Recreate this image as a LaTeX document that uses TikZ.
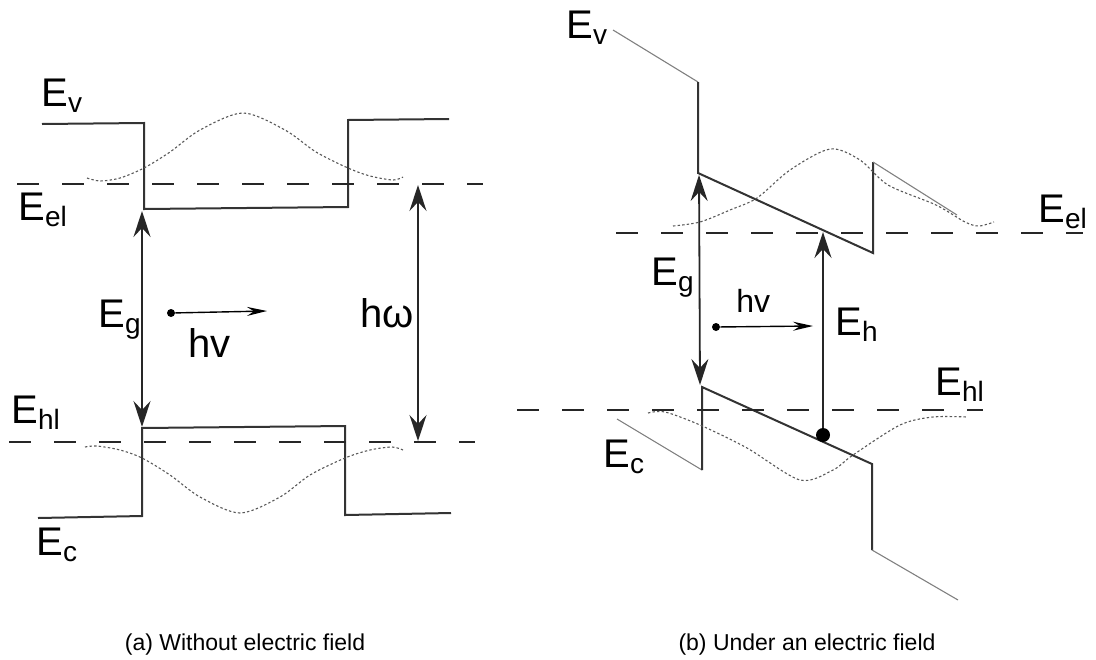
\documentclass[tikz,border=0pt]{standalone}
\usepackage{fontspec}
\setmainfont{Liberation Sans}
\usetikzlibrary{arrows.meta}

\begin{document}
\begin{tikzpicture}
  [x=0.5pt,y=-0.5pt,
   band/.style={draw=black!80,line width=1pt},
   tail/.style={draw=black!50,line width=0.55pt},
   lvline/.style={draw=black!85,line width=1.1pt,dash pattern=on 11pt off 11.5pt},
   wave/.style={draw=black!65,line width=0.55pt,dash pattern=on 1.2pt off 1.1pt},
   gap/.style={draw=black!85,line width=0.9pt,{Stealth[length=13pt,width=8.5pt,inset=4.5pt]}-{Stealth[length=13pt,width=8.5pt,inset=4.5pt]}},
   rise/.style={draw=black!85,line width=0.9pt,-{Stealth[length=13pt,width=8.5pt,inset=4.5pt]}},
   photon/.style={draw,line width=0.7pt,-{Stealth[length=10pt,width=4.5pt,inset=3.5pt]}},
   electron/.style={circle,fill,inner sep=0pt,minimum size=4pt},
   lbl/.style={anchor=base west,inner sep=0pt,font=\fontsize{20}{24}\selectfont},
   capt/.style={anchor=base,inner sep=0pt,font=\fontsize{11.5}{14}\selectfont}]
  \useasboundingbox (0,0) rectangle (1096,659);

  % (a) without field
  \coordinate (a1) at (42,124);
  \coordinate (a2) at (144,123);
  \coordinate (a3) at (144,209);
  \coordinate (a4) at (348,207);
  \coordinate (a5) at (348,120);
  \coordinate (a6) at (449,119);
  \draw[band] (a1) -- (a2) -- (a3) -- (a4) -- (a5) -- (a6);

  \coordinate (b1) at (38,518);
  \coordinate (b2) at (142,516);
  \coordinate (b3) at (142,428);
  \coordinate (b4) at (345,426);
  \coordinate (b5) at (345,515);
  \coordinate (b6) at (451,513);
  \draw[band] (b1) -- (b2) -- (b3) -- (b4) -- (b5) -- (b6);

  \coordinate (el a1) at (17,184);
  \coordinate (el a2) at (483,184);
  \coordinate (hl a1) at (9,442);
  \coordinate (hl a2) at (475,442);
  \draw[lvline] (el a1) -- (el a2);
  \draw[lvline] (hl a1) -- (hl a2);

  \draw[wave] plot[smooth] coordinates {(87,178) (100,181) (120,178) (144,168) (170,152) (200,130) (243,113) (285,130) (316,152) (348,168) (370,176) (393,180) (403,177)};
  \draw[wave] plot[smooth] coordinates {(85,447) (97,446) (120,450) (142,458) (170,475) (200,497) (240,513) (280,497) (310,475) (345,458) (370,450) (392,447) (403,450)};

  \coordinate (ga1) at (142,211);
  \coordinate (ga2) at (142,427);
  \draw[gap] (ga1) -- (ga2);
  \coordinate (hw1) at (418,185);
  \coordinate (hw2) at (418,441);
  \draw[gap] (hw1) -- (hw2);

  \node[electron] (ph a) at (171,313) {};
  \coordinate (ph a end) at (267,311);
  \draw[photon] (ph a) -- (ph a end);

  \node[lbl] (Ev a) at (41,106) {E\textsubscript{v}};
  \node[lbl] (Eel a) at (18,220) {E\textsubscript{el}};
  \node[lbl] (Ehl a) at (11,423) {E\textsubscript{hl}};
  \node[lbl] (Ec a) at (36,555) {E\textsubscript{c}};
  \node[lbl] (Eg a) at (98,327) {E\textsubscript{g}};
  \node[lbl] (hv a) at (188,357) {hv};
  \node[lbl] (hw) at (360,327) {hω};

  % (b) under a field
  \coordinate (c1) at (613,30);
  \coordinate (c2) at (698,82);
  \coordinate (c3) at (698,173);
  \coordinate (c4) at (873,253);
  \coordinate (c5) at (873,162);
  \coordinate (c6) at (957,215);
  \draw[tail] (c1) -- (c2);
  \draw[band] (c2) -- (c3) -- (c4) -- (c5);
  \draw[tail] (c5) -- (c6);

  \coordinate (d1) at (617,419);
  \coordinate (d2) at (702,470);
  \coordinate (d3) at (702,387);
  \coordinate (d4) at (872,464);
  \coordinate (d5) at (872,550);
  \coordinate (d6) at (958,600);
  \draw[tail] (d1) -- (d2);
  \draw[band] (d2) -- (d3) -- (d4) -- (d5);
  \draw[tail] (d5) -- (d6);

  \coordinate (el b1) at (616,233);
  \coordinate (el b2) at (1083,233);
  \coordinate (hl b1) at (517,410);
  \coordinate (hl b2) at (983,410);
  \draw[lvline] (el b1) -- (el b2);
  \draw[lvline] (hl b1) -- (hl b2);

  \draw[wave] plot[smooth] coordinates {(673,226) (700,222) (730,210) (757,198) (790,170) (830,149) (860,160) (888,185) (936,205) (965,222) (979,226) (994,222)};
  \draw[wave] plot[smooth] coordinates {(648,413) (665,412) (700,425) (747,448) (800,480) (833,470) (853,455) (900,425) (933,417) (967,417)};

  \coordinate (gb1) at (699,175);
  \coordinate (gb2) at (700,385);
  \draw[gap] (gb1) -- (gb2);

  \node[electron,minimum size=7pt] (hole) at (823,435) {};
  \coordinate (eh top) at (823,232);
  \draw[rise] (hole) -- (eh top);

  \node[electron] (ph b) at (716,327) {};
  \coordinate (ph b end) at (813,326);
  \draw[photon] (ph b) -- (ph b end);

  \node[lbl] (Ev b) at (566,38) {E\textsubscript{v}};
  \node[lbl] (Eel b) at (1038,222) {E\textsubscript{el}};
  \node[lbl] (Ehl b) at (935,395) {E\textsubscript{hl}};
  \node[lbl] (Ec b) at (603,467) {E\textsubscript{c}};
  \node[lbl] (Eg b) at (651,285) {E\textsubscript{g}};
  \node[lbl] (Eh b) at (835,335) {E\textsubscript{h}};
  \node[lbl,font=\fontsize{16}{19}\selectfont] (hv b) at (736,312) {hv};

  \node[capt] (cap a) at (245,650) {(a) Without electric field};
  \node[capt] (cap b) at (807,650) {(b) Under an electric field};
\end{tikzpicture}
\end{document}
